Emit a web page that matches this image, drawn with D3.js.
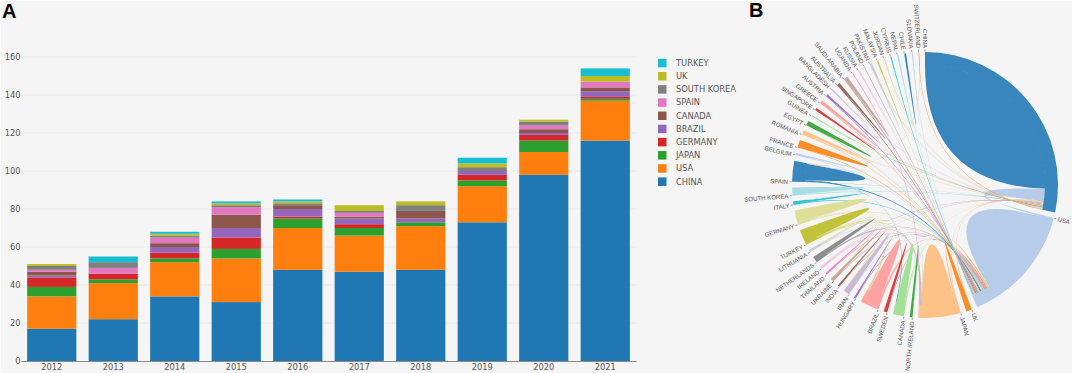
<!DOCTYPE html>
<html>
<head>
<meta charset="utf-8">
<script src="https://cdn.jsdelivr.net/npm/d3@7"></script>
<style>
  html, body { margin: 0; padding: 0; background: #fff; overflow: hidden; }
  svg { display: block; }
  .num { font-family: "DejaVu Sans", sans-serif; font-size: 8.3px; fill: #555; }
  .panel { font-family: "Liberation Sans", sans-serif; font-size: 20px; font-weight: bold; fill: #000; }
  .clabel { font-family: "Liberation Sans", sans-serif; font-size: 6.1px; fill: #555; }
</style>
</head>
<body>
<svg id="fig" width="1072" height="373"></svg>
<script>
const years = ["2012","2013","2014","2015","2016","2017","2018","2019","2020","2021"];
const yTicks = [0,20,40,60,80,100,120,140,160];
const seriesNames = ["CHINA","USA","JAPAN","GERMANY","BRAZIL","CANADA","SPAIN","SOUTH KOREA","UK","TURKEY"];
const palette = ["#1f77b4","#ff7f0e","#2ca02c","#d62728","#9467bd","#8c564b","#e377c2","#7f7f7f","#bcbd22","#17becf"];

const china      = [17,22,34,31,48,47,48,73,98,116];
const usa        = [17,19,18,23,22,19,23,19,12,21];
const japan      = [5,2,2,5,5,4,2,3,6,1];
const germany    = [5,3,3,6,1,2,0,3,3,1];
const brazil     = [1,0,3,5,4,3,2,2,1,3];
const canada     = [2,0,2,7,2,1,4,0,2,2];
const spain      = [1,3,3,4,0,2,0,0,2,3];
const southKorea = [2,3,1,1,1,1,3,2,2,0];
const uk         = [1,0,1,1,1,3,2,2,1,3];
const turkey     = [0,3,1,1,1,0,0,3,0,4];
const seriesValues = [china,usa,japan,germany,brazil,canada,spain,southKorea,uk,turkey];

// chord: clockwise from the top
const countries = ["CHINA","USA","UK","JAPAN","NORTH IRELAND","CANADA","SWEDEN","BRAZIL","HUNGARY","IRAN","INDIA","UKRAINE","THAILAND","IRELAND","NETHERLANDS","LITHUANIA","TURKEY","GERMANY","ITALY","SOUTH KOREA","SPAIN","BELGIUM","FRANCE","ROMANIA","EGYPT","GUINEA","SINGAPORE","GREECE","AUSTRIA","BANGLADESH","AUSTRALIA","SAUDI ARABIA","UGANDA","RUSSIA","POLAND","PAKISTAN","MALAYSIA","JORDAN","CYPRUS","NEPAL","CHILE","SLOVAKIA","SWITZERLAND"];
const withinCountry = [918,426,23,162,11,41,14,65,6,24,7,10,6,2,21,4,58,54,10,29,78,5,30,10,19,2,9,12,7,1,10,13,0,2,0,7,3,2,2,4,8,2,0];
// [a, b, width at a, width at b when it differs]
const betweenCountries = [
  ["CHINA","USA",60,8],["CHINA","UK",2],["CHINA","JAPAN",3],["CHINA","CANADA",2],["CHINA","BRAZIL",3],
  ["CHINA","THAILAND",2],["CHINA","IRELAND",2],["CHINA","NETHERLANDS",2],["CHINA","SOUTH KOREA",4],["CHINA","SPAIN",2],
  ["CHINA","ROMANIA",3],["CHINA","GUINEA",3],["CHINA","SINGAPORE",2],["CHINA","BANGLADESH",3],
  ["CHINA","PAKISTAN",3],["CHINA","JORDAN",3],["CHINA","SWITZERLAND",2],
  ["USA","JAPAN",8],["USA","CANADA",3],["USA","SWEDEN",2],["USA","BRAZIL",6],["USA","HUNGARY",3],
  ["USA","IRAN",2],["USA","INDIA",2],["USA","UKRAINE",2],["USA","IRELAND",3],["USA","NETHERLANDS",2],
  ["USA","LITHUANIA",2],["USA","TURKEY",2],["USA","GERMANY",3],["USA","ITALY",3],["USA","SPAIN",5],
  ["USA","BELGIUM",2],["USA","FRANCE",2],["USA","ROMANIA",4],["USA","EGYPT",2],["USA","GREECE",3],
  ["USA","AUSTRIA",4],["USA","BANGLADESH",2],["USA","AUSTRALIA",4],["USA","SAUDI ARABIA",6],
  ["USA","RUSSIA",3],["USA","POLAND",2],["USA","MALAYSIA",2],["USA","CYPRUS",3],["USA","NEPAL",2],["USA","SLOVAKIA",2],
  ["JAPAN","NORTH IRELAND",1],["JAPAN","UKRAINE",2],["JAPAN","THAILAND",1],["JAPAN","NETHERLANDS",2],
  ["JAPAN","LITHUANIA",2],["JAPAN","TURKEY",1],["JAPAN","UGANDA",3],
  ["CANADA","SPAIN",3],["BRAZIL","IRELAND",3],["BRAZIL","TURKEY",3],["BRAZIL","GERMANY",3],
  ["IRAN","TURKEY",2],["UKRAINE","TURKEY",2],["LITHUANIA","GERMANY",3],["ITALY","SOUTH KOREA",2],
  ["SPAIN","BELGIUM",2],["SPAIN","SWITZERLAND",1],["FRANCE","ROMANIA",2]
];

const svg = d3.select("#fig");
svg.append("rect").attr("x",1).attr("y",1).attr("width",1071).attr("height",372).attr("fill","#f5f5f5");

// ---- A: stacked bars
const x = d3.scaleBand().domain(years).range([21,636]).paddingInner(0.2).paddingOuter(0.1);
const y = d3.scaleLinear().domain([0,160]).range([361,57]);

const yAxis = d3.axisLeft(y).tickValues(yTicks).tickSize(0).tickPadding(0.5);
const yg = svg.append("g").attr("transform","translate(21,0)").call(yAxis);
yg.select(".domain").remove();
yg.selectAll("text").attr("class","num").attr("font-family",null).attr("font-size",null);

svg.append("g").selectAll("line")
   .data(yTicks.slice(1))
   .enter()
   .append("line")
   .attr("x1",21).attr("x2",636)
   .attr("y1",d => y(d)).attr("y2",d => y(d))
   .attr("stroke","#ececec")
   .attr("stroke-width",1.3);

const rows = years.map((yr,i) => {
  const r = {year: yr};
  seriesNames.forEach((s,k) => { r[s] = seriesValues[k][i]; });
  return r;
});
const stacked = d3.stack().keys(seriesNames)(rows);

svg.append("g").selectAll("g")
   .data(stacked)
   .enter()
   .append("g")
   .attr("fill",(d,i) => palette[i])
   .selectAll("rect")
   .data(d => d)
   .enter()
   .append("rect")
   .attr("x",d => x(d.data.year))
   .attr("width",x.bandwidth())
   .attr("y",d => y(d[1]))
   .attr("height",d => y(d[0]) - y(d[1]));

const xAxis = d3.axisBottom(x).tickSize(0).tickPadding(3);
const xg = svg.append("g").attr("transform","translate(0,361)").call(xAxis);
xg.select(".domain").attr("stroke","#8a8a8a");
xg.selectAll("text").attr("class","num").attr("font-family",null).attr("font-size",null);

// legend, top of stack first
const legendOrder = seriesNames.map((s,i) => i).reverse();
const legend = svg.append("g").selectAll("g")
   .data(legendOrder)
   .enter()
   .append("g")
   .attr("transform",(d,i) => "translate(658," + (63 + i*13.18) + ")");
legend.append("rect").attr("y",-4.2).attr("width",8.5).attr("height",8.5).attr("fill",d => palette[d]);
legend.append("text").attr("class","num").attr("x",18).attr("dy","0.35em").text(d => seriesNames[d]);

// ---- B: chord
const cx = 925, cy = 185, rOuter = 133, rInner = 120;
const cat20 = ["#1f77b4","#aec7e8","#ff7f0e","#ffbb78","#2ca02c","#98df8a","#d62728","#ff9896","#9467bd","#c5b0d5","#8c564b","#c49c94","#e377c2","#f7b6d2","#7f7f7f","#c7c7c7","#bcbd22","#dbdb8d","#17becf","#9edae5"];
const color = i => cat20[i % 20];

const matrix = countries.map((c,i) => countries.map((d,j) => i === j ? withinCountry[i] : 0));
betweenCountries.forEach(l => {
  const a = countries.indexOf(l[0]), b = countries.indexOf(l[1]);
  matrix[a][b] = l[2];
  matrix[b][a] = l.length > 3 ? l[3] : l[2];
});

const chords = d3.chord().padAngle(2.5 * Math.PI / 180)(matrix);
const ring = d3.arc().innerRadius(rInner).outerRadius(rOuter);
const ribbon = d3.ribbon().radius(rInner + 0.5);

const gc = svg.append("g")
   .attr("transform","translate(" + cx + "," + cy + ")")
   .attr("opacity",0.88);

gc.append("g").selectAll("path")
  .data(chords)
  .enter()
  .append("path")
  .attr("d",ribbon)
  .attr("fill",d => color(Math.max(d.source.index,d.target.index)));

gc.append("g").selectAll("path")
  .data(chords.groups)
  .enter()
  .append("path")
  .attr("d",ring)
  .attr("fill",d => color(d.index));

const flipped = a => a === 0 || a > Math.PI;
const lab = svg.append("g")
  .attr("transform","translate(" + cx + "," + cy + ")")
  .selectAll("g")
  .data(chords.groups)
  .enter()
  .append("g")
  .attr("transform",d => "rotate(" + (d.startAngle * 180 / Math.PI - 90) + ")");
lab.append("line").attr("x1",rOuter + 0.5).attr("x2",rOuter + 2.5).attr("stroke","#777").attr("stroke-width",0.7);
lab.append("text")
   .attr("class","clabel")
   .attr("dy","0.35em")
   .attr("transform",d => "translate(" + (rOuter + 4) + ")" + (flipped(d.startAngle) ? " rotate(180)" : ""))
   .attr("text-anchor",d => flipped(d.startAngle) ? "end" : "start")
   .text(d => countries[d.index]);

svg.append("text").attr("class","panel").attr("x",2).attr("y",18).text("A");
svg.append("text").attr("class","panel").attr("x",749).attr("y",17).text("B");
</script>
</body>
</html>
